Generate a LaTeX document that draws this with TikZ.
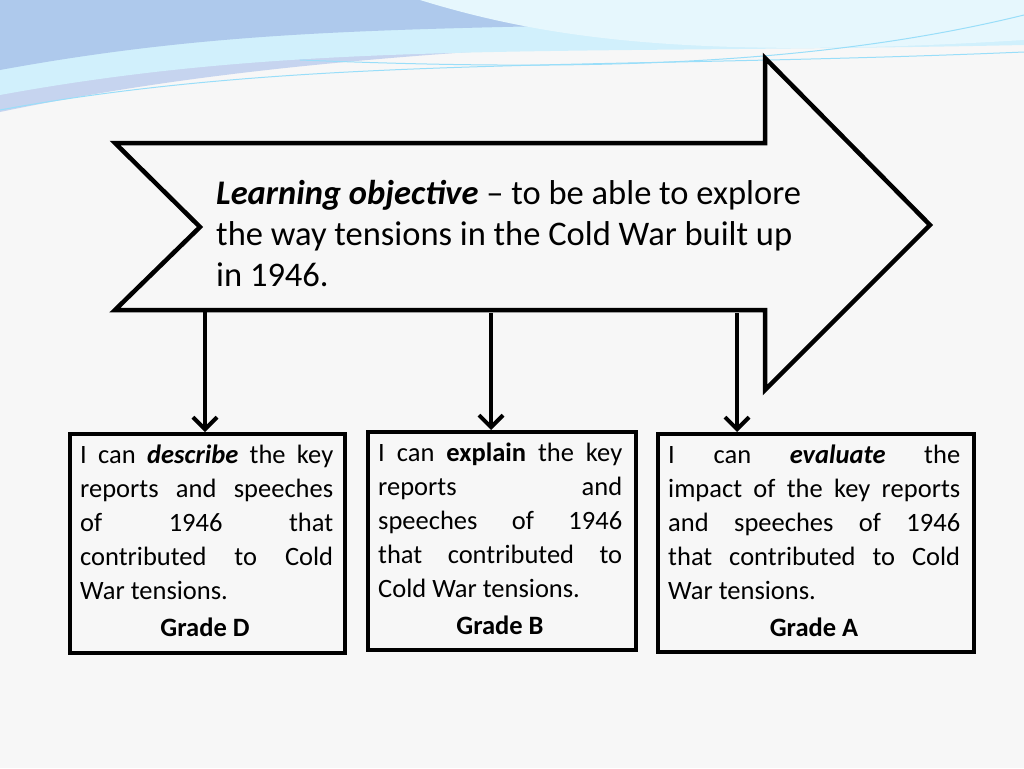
\documentclass[tikz,border=0pt]{standalone}
\usepackage{fontspec}
\setmainfont{Carlito}
\usetikzlibrary{arrows.meta}
\newcommand{\jl}[2]{\makebox[#1][s]{#2}}
\begin{document}
\begin{tikzpicture}[x=1pt,y=-1pt,
  thick line/.style={line width=4.5pt,line join=miter},
  downarrow/.style={line width=4pt,-{Straight Barb[length=12pt,width=24pt,line width=4pt]}},
  gbox/.style={draw,line width=4pt},
  btext/.style={anchor=north west,inner sep=0pt,align=left,font=\fontsize{26.5}{34}\selectfont},
  grade/.style={inner sep=0pt,font=\fontsize{26.5}{34}\selectfont\bfseries}]
\useasboundingbox (0,0) rectangle (1024,768);
\fill[white!97!black] (0,0) rectangle (1024,768);
% waves
\fill[cyan!50!blue!22] (0,0) -- (0,112) .. controls (250,60) and (500,45) .. (1024,25) -- (1024,0) -- cycle;
\fill[cyan!18!white] (0,0) -- (0,95) .. controls (300,40) and (550,55) .. (1024,45) -- (1024,0) -- cycle;
\fill[cyan!60!blue!32] (0,0) -- (0,70) .. controls (300,15) and (500,35) .. (1024,12) -- (1024,0) -- cycle;
\fill[cyan!10!white] (420,0) .. controls (550,40) and (700,60) .. (1024,40) -- (1024,0) -- cycle;
\draw[cyan!40,line width=1pt] (0,110) .. controls (300,55) and (600,70) .. (1024,52);
\draw[cyan!40,line width=1pt] (300,60) .. controls (550,70) and (800,70) .. (1024,15);
% big arrow
\draw[thick line,fill=white!97!black] (115,143) -- (765,143) -- (765,58) -- (930,225) -- (765,390) -- (765,310) -- (115,310) -- (200,227) -- cycle;
\node[anchor=north west,inner sep=0pt,align=left,font=\fontsize{34.5}{41}\selectfont] (lo) at (216,180)
 {\textbf{\textit{Learning objective}} -- to be able to explore\\the way tensions in the Cold War built up\\in 1946.};
% boxes
\node[gbox,minimum width=275pt,minimum height=219pt,anchor=north west] (b1) at (68,432) {};
\node[gbox,minimum width=268pt,minimum height=218pt,anchor=north west] (b2) at (366,430) {};
\node[gbox,minimum width=316pt,minimum height=218pt,anchor=north west] (b3) at (656,432) {};
\coordinate (s1) at (205,310);
\coordinate (s2) at (491,313);
\coordinate (s3) at (737,313);
\draw[downarrow] (s1) -- (b1.north -| s1);
\draw[downarrow] (s2) -- (b2.north -| s2);
\draw[downarrow] (s3) -- (b3.north -| s3);
\node[btext] (t1) at (80,445) {\jl{253pt}{I can \textbf{\textit{describe}} the key}\\\jl{253pt}{reports and speeches}\\\jl{253pt}{of \hfill 1946 \hfill that}\\\jl{253pt}{contributed to Cold}\\War tensions.};
\node[grade] (g1) at (205,627) {Grade D};
\node[btext] (t2) at (378,443) {\jl{244pt}{I can \textbf{explain} the key}\\\jl{244pt}{reports \hfill and}\\\jl{244pt}{speeches of 1946}\\\jl{244pt}{that contributed to}\\Cold War tensions.};
\node[grade] (g2) at (500,625) {Grade B};
\node[btext] (t3) at (668,445) {\jl{292pt}{I \hfill can \hfill \textbf{\textit{evaluate}} \hfill the}\\\jl{292pt}{impact of the key reports}\\\jl{292pt}{and speeches of 1946}\\\jl{292pt}{that contributed to Cold}\\War tensions.};
\node[grade] (g3) at (814,627) {Grade A};
\end{tikzpicture}
\end{document}
